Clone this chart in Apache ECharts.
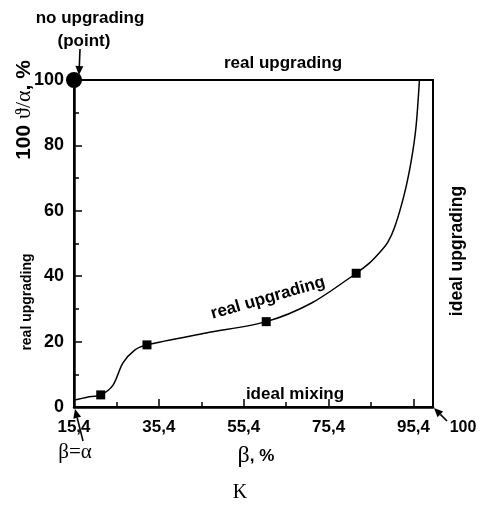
<!DOCTYPE html>
<html>
<head>
<meta charset="utf-8">
<script src="https://cdn.jsdelivr.net/npm/echarts@6/dist/echarts.min.js"></script>
<style>
html, body { margin: 0; padding: 0; background: #fff; }
#chart { width: 480px; height: 509px; }
</style>
</head>
<body>
<div id="chart"></div>
<script>
// beta axis starts at 15,4 -> values are plotted relative to it
var betaStart = 15.4;
var betaEnd = 100;

// curve
var curveBeta = [15.4, 18.5, 21.7, 24.6, 26.9, 29.7, 32.6, 46.5, 60.7, 71.4, 81.9, 85.0, 87.1, 89.3, 91.0, 93.3, 94.9, 96.0, 96.8];
var curveVal = [2.1, 3.0, 3.7, 6.7, 13.4, 17.4, 19.0, 22.6, 26.1, 31.8, 40.9, 44.0, 46.8, 50.3, 55.1, 65.4, 75.5, 85.7, 100];

// measured points (squares)
var pointBeta = [21.7, 32.6, 60.7, 81.9];
var pointVal = [3.7, 19.0, 26.1, 40.9];

// "no upgrading" point
var noUpBeta = [15.4];
var noUpVal = [100];

var yTicks = [0, 20, 40, 60, 80, 100];

var sans = '"Liberation Sans", Arial, sans-serif';
var serif = '"Liberation Serif", "Times New Roman", serif';

function pairs(xs, ys) {
  return xs.map(function (b, i) { return [b - betaStart, ys[i]]; });
}

function label(text, x, y, size, rot) {
  return {
    type: 'text', x: x, y: y, rotation: rot || 0,
    style: { text: text, align: 'center', verticalAlign: 'middle', fill: '#000',
      font: 'bold ' + size + 'px ' + sans }
  };
}

function arrow(x1, y1, x2, y2) {
  var a = Math.atan2(y2 - y1, x2 - x1);
  var l = 9, w = 4;
  var bx = x2 - l * Math.cos(a), by = y2 - l * Math.sin(a);
  return [
    { type: 'line', shape: { x1: x1, y1: y1, x2: bx, y2: by }, style: { stroke: '#000', lineWidth: 1.6 } },
    { type: 'polygon', shape: { points: [[x2, y2],
      [bx + w * Math.sin(a), by - w * Math.cos(a)],
      [bx - w * Math.sin(a), by + w * Math.cos(a)]] }, style: { fill: '#000' } }
  ];
}

var chart = echarts.init(document.getElementById('chart'));

var graphics = [
  label('no upgrading', 90, 18, 17),
  label('(point)', 84, 41, 17),
  label('real upgrading', 283, 63, 17),
  label('real upgrading', 268, 298, 17, 0.28),
  label('ideal mixing', 295, 394, 17),
  label('ideal upgrading', 457, 251, 17.5, Math.PI / 2),
  label('real upgrading', 27, 302, 14, Math.PI / 2),
  label('100', 463, 428, 16),
  {
    type: 'text', x: 24, y: 110, rotation: Math.PI / 2,
    style: {
      text: '{a|100 }{b|ϑ/α}{a|, %}', align: 'center', verticalAlign: 'middle',
      rich: {
        a: { font: 'bold 21px ' + sans, fill: '#000' },
        b: { font: '22px ' + serif, fill: '#000' }
      }
    }
  },
  {
    type: 'text', x: 75, y: 452,
    style: { text: 'β=α', align: 'center', verticalAlign: 'middle', fill: '#000', font: '21px ' + serif }
  },
  {
    type: 'text', x: 256, y: 456,
    style: {
      text: '{b|β}{a|, %}', align: 'center', verticalAlign: 'middle',
      rich: {
        a: { font: 'bold 17px ' + sans, fill: '#000' },
        b: { font: '24px ' + serif, fill: '#000' }
      }
    }
  },
  {
    type: 'text', x: 240, y: 493,
    style: { text: 'K', align: 'center', verticalAlign: 'middle', fill: '#000', font: '20px ' + serif }
  }
].concat(arrow(80, 49, 79, 75), arrow(83, 441, 75, 409), arrow(447, 421, 434, 408));

var option = {
  animation: false,
  grid: { left: 74, right: 47, top: 80, bottom: 102, show: true, borderColor: '#000', borderWidth: 2 },
  xAxis: {
    type: 'value', min: 0, max: betaEnd - betaStart, interval: 20,
    axisLine: { lineStyle: { color: '#000', width: 2.5 } },
    axisTick: { inside: true, length: 8, lineStyle: { color: '#000', width: 1.5 } },
    minorTick: { show: true, splitNumber: 2, length: 5, lineStyle: { color: '#000', width: 1.5 } },
    splitLine: { show: false },
    axisLabel: {
      margin: 12, color: '#000', fontWeight: 'bold', fontSize: 17, fontFamily: sans,
      formatter: function (v) {
        if (v % 20 !== 0 || v > 80) return '';
        return (v + betaStart).toFixed(1).replace('.', ',');
      }
    }
  },
  yAxis: {
    type: 'value', min: 0, max: 100, interval: 20,
    axisLine: { lineStyle: { color: '#000', width: 2.5 } },
    axisTick: { inside: true, length: 8, lineStyle: { color: '#000', width: 1.5 } },
    minorTick: { show: true, splitNumber: 2, length: 5, lineStyle: { color: '#000', width: 1.5 } },
    splitLine: { show: false },
    axisLabel: {
      margin: 10, color: '#000', fontWeight: 'bold', fontSize: 18, fontFamily: sans,
      formatter: function (v) { return yTicks.indexOf(v) >= 0 ? String(v) : ''; }
    }
  },
  series: [
    {
      type: 'line', data: pairs(curveBeta, curveVal), smooth: 0.3,
      showSymbol: false, lineStyle: { color: '#000', width: 1.5 }, clip: false
    },
    {
      type: 'scatter', data: pairs(pointBeta, pointVal), symbol: 'rect', symbolSize: 9,
      itemStyle: { color: '#000', opacity: 1 }
    },
    {
      type: 'scatter', data: pairs(noUpBeta, noUpVal), symbol: 'circle', symbolSize: 16,
      itemStyle: { color: '#000', opacity: 1 }, clip: false, z: 5
    }
  ],
  graphic: graphics
};

chart.setOption(option);
</script>
</body>
</html>
